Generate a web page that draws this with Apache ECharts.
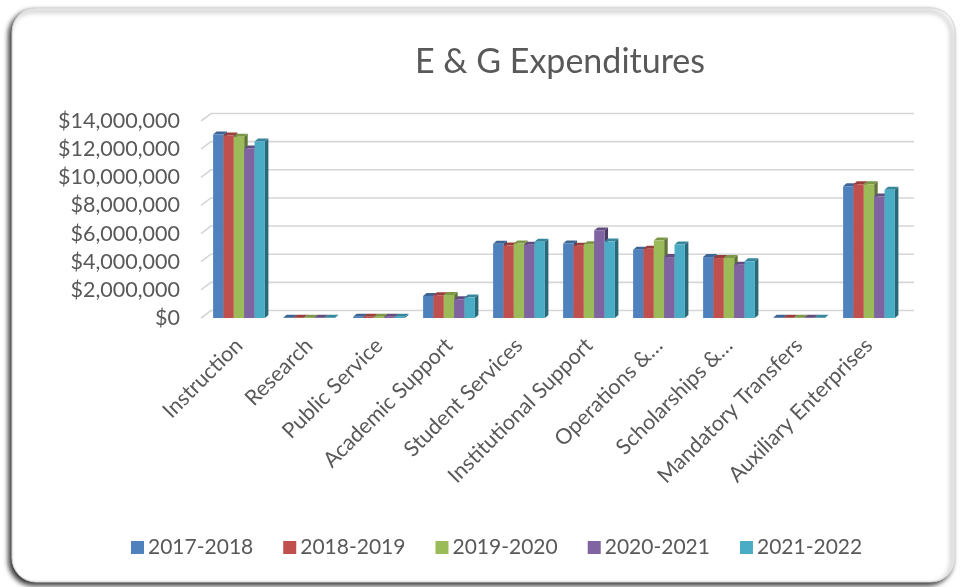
<!DOCTYPE html>
<html>
<head>
<meta charset="utf-8">
<script src="https://cdn.jsdelivr.net/npm/echarts@6/dist/echarts.min.js"></script>
<style>html,body{margin:0;padding:0;background:#fff}#c{width:960px;height:587px}</style>
</head>
<body>
<div id="c"></div>
<script>
const categories = ['Instruction','Research','Public Service','Academic Support','Student Services','Institutional Support','Operations &…','Scholarships &…','Mandatory Transfers','Auxiliary Enterprises'];
const seriesNames = ['2017-2018','2018-2019','2019-2020','2020-2021','2021-2022'];
const v2017 = [13040000, 15000, 80000, 1570000, 5270000, 5290000, 4850000, 4330000, 10000, 9370000];
const v2018 = [12970000, 15000, 80000, 1620000, 5150000, 5130000, 4920000, 4260000, 10000, 9510000];
const v2019 = [12880000, 15000, 80000, 1640000, 5290000, 5250000, 5500000, 4260000, 10000, 9510000];
const v2020 = [12040000, 15000, 80000, 1330000, 5200000, 6210000, 4330000, 3790000, 10000, 8640000];
const v2021 = [12550000, 15000, 80000, 1450000, 5410000, 5430000, 5220000, 4030000, 10000, 9110000];
const yTicks = [0, 2000000, 4000000, 6000000, 8000000, 10000000, 12000000, 14000000];

const allValues = [v2017, v2018, v2019, v2020, v2021];
const colors = ['#4f81bd','#c0504d','#9bbb59','#8064a2','#4bacc6'];
const tops = ['#3c6494','#9a3e3b','#7c9747','#634d80','#37879c'];
const sides = ['#2e4d73','#7a2f2d','#5f7436','#4b3a61','#2a6878'];
const FONT = 'Lato, "Open Sans", sans-serif';
const TXT = '#595959';
const DX = 3.5, DY = 3;
const nS = seriesNames.length;

function makeBarRender(s) {
  return function (params, api) {
    const idx = api.value(0), val = api.value(1);
    const base = api.coord([idx, 0]);
    const top = api.coord([idx, val]);
    const band = api.size([1, 0])[0];
    const groupW = band * 0.74;
    const bw = groupW / nS;
    const x0 = base[0] - groupW / 2 + s * bw;
    const yB = base[1], yT = top[1];
    return {
      type: 'group',
      children: [
        { type: 'polygon', shape: { points: [[x0 + bw, yT], [x0 + bw + DX, yT - DY], [x0 + bw + DX, yB - DY], [x0 + bw, yB]] }, style: { fill: sides[s] } },
        { type: 'polygon', shape: { points: [[x0, yT], [x0 + DX, yT - DY], [x0 + bw + DX, yT - DY], [x0 + bw, yT]] }, style: { fill: tops[s] } },
        { type: 'rect', shape: { x: x0, y: yT, width: bw, height: Math.max(yB - yT, 0) }, style: { fill: colors[s] } }
      ]
    };
  };
}

const series = [{
  type: 'custom',
  name: 'grid',
  silent: true,
  z: 1,
  data: yTicks.map(t => [0, t]),
  renderItem: function (params, api) {
    const cs = params.coordSys;
    const y = api.coord([0, api.value(1)])[1];
    const xl = cs.x - 3;
    return { type: 'polyline', shape: { points: [[xl, y], [xl + 10, y - 7.5], [cs.x + cs.width + 10, y - 7.5]] }, style: { stroke: '#d6d6d6', lineWidth: 1.6, fill: null } };
  }
}];
seriesNames.forEach((n, s) => {
  series.push({
    type: 'custom',
    name: n,
    z: 3,
    itemStyle: { color: colors[s] },
    data: allValues[s].map((v, i) => [i, v]),
    encode: { x: 0, y: 1 },
    renderItem: makeBarRender(s)
  });
});

const chart = echarts.init(document.getElementById('c'), null, { renderer: 'canvas' });
chart.setOption({
  backgroundColor: '#ffffff',
  animation: false,
  graphic: [{
    type: 'rect', z: 0, silent: true,
    shape: { x: 12, y: 8, width: 943, height: 574, r: 24 },
    style: { fill: '#ffffff', stroke: '#d4d4d4', lineWidth: 1, shadowBlur: 5, shadowColor: 'rgba(0,0,0,0.8)', shadowOffsetX: -3, shadowOffsetY: 3 }
  }],
  title: {
    text: 'E & G Expenditures',
    left: 410, top: 40,
    textStyle: { fontFamily: FONT, fontSize: 34, fontWeight: 'normal', color: TXT }
  },
  legend: {
    data: seriesNames,
    left: 126, top: 532,
    icon: 'rect', itemWidth: 13, itemHeight: 13, itemGap: 30,
    textStyle: { fontFamily: FONT, fontSize: 21, color: TXT, padding: [0, 0, 0, -1] }
  },
  grid: { left: 204, right: 56, top: 121, bottom: 269, containLabel: false },
  xAxis: {
    type: 'category', data: categories,
    axisLine: { show: false }, axisTick: { show: false }, splitLine: { show: false },
    axisLabel: { interval: 0, rotate: 45, margin: 24, fontFamily: FONT, fontSize: 21.5, color: TXT }
  },
  yAxis: {
    type: 'value', min: 0, max: 14000000, interval: 2000000,
    axisLine: { show: false }, axisTick: { show: false }, splitLine: { show: false },
    axisLabel: {
      margin: 24, fontFamily: FONT, fontSize: 21.5, color: TXT,
      formatter: v => '$' + v.toLocaleString('en-US')
    }
  },
  series: series
});
</script>
</body>
</html>
